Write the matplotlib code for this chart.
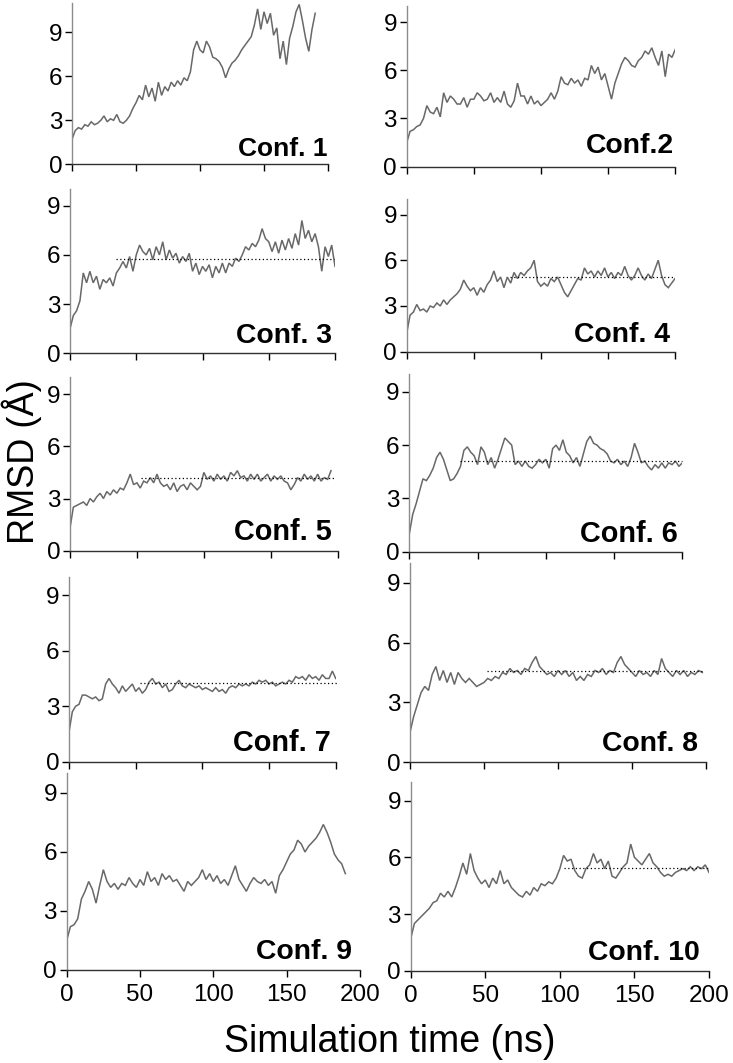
import numpy as np
import matplotlib
matplotlib.use("Agg")
import matplotlib.pyplot as plt

plt.rcParams['font.family'] = ['Liberation Sans', 'DejaVu Sans']

W, H, DPI = 733, 1063, 100
STEP = 2.5  # ns between samples

conf1 = [1.7, 2.3, 2.5, 2.4, 2.7, 2.6, 2.9, 2.7, 2.8, 3.0, 3.3, 2.9, 3.1, 3.0, 3.4, 2.9,
         2.8, 3.0, 3.3, 3.8, 4.2, 4.7, 4.4, 5.4, 4.6, 5.2, 4.3, 5.6, 4.7, 5.3, 5.0, 5.6,
         5.3, 5.7, 5.4, 5.9, 5.7, 6.3, 7.8, 8.4, 7.8, 7.6, 8.4, 8.0, 7.3, 7.2, 7.0, 6.6,
         5.9, 6.5, 6.9, 7.1, 7.4, 7.8, 8.1, 8.4, 8.7, 9.5, 10.6, 9.2, 10.4, 9.6, 10.3, 8.8,
         9.3, 7.2, 8.4, 6.8, 8.6, 9.4, 10.4, 10.9, 9.8, 8.6, 7.7, 9.2, 10.3]
conf2 = [1.5, 2.2, 2.3, 2.5, 2.6, 3.0, 3.8, 3.4, 3.3, 3.7, 3.1, 4.6, 4.0, 4.4, 4.2, 3.9,
         3.9, 4.3, 3.7, 4.2, 4.2, 4.6, 4.4, 4.1, 4.2, 4.6, 4.0, 4.3, 4.0, 4.7, 3.9, 3.7,
         4.1, 5.2, 4.4, 4.4, 3.9, 4.4, 3.9, 4.1, 3.8, 4.0, 4.2, 4.6, 4.2, 4.7, 5.6, 5.2,
         5.1, 5.5, 5.2, 5.4, 5.0, 5.5, 5.4, 6.3, 5.8, 6.2, 5.4, 5.8, 5.0, 4.2, 5.2, 5.8,
         6.4, 6.8, 6.6, 6.3, 6.2, 6.6, 6.8, 7.2, 7.0, 7.4, 6.8, 6.3, 7.2, 5.6, 7.0, 6.8,
         7.3]
conf3 = [1.5, 2.3, 2.6, 3.2, 4.9, 4.3, 5.0, 4.3, 4.7, 3.9, 4.5, 4.3, 4.6, 4.1, 4.9, 5.2,
         5.6, 5.2, 5.9, 5.0, 6.0, 6.6, 6.2, 6.0, 6.4, 5.7, 6.5, 6.0, 6.8, 5.7, 6.3, 5.8,
         6.1, 5.5, 5.9, 5.6, 6.1, 5.0, 5.5, 4.8, 5.3, 5.0, 5.4, 4.6, 5.3, 4.9, 5.5, 4.9,
         5.5, 5.3, 5.8, 5.6, 6.0, 6.5, 6.3, 6.7, 6.5, 6.9, 7.6, 7.0, 6.8, 6.2, 6.8, 6.1,
         6.9, 6.3, 7.0, 6.4, 7.3, 6.6, 8.1, 7.0, 7.5, 6.8, 7.3, 6.5, 5.0, 6.5, 5.9, 6.6,
         5.3]
conf4 = [1.2, 2.4, 2.6, 3.1, 2.7, 2.8, 2.6, 3.0, 2.9, 3.2, 3.0, 3.4, 3.1, 3.4, 3.6, 3.8,
         4.1, 4.7, 4.3, 4.0, 4.2, 3.7, 4.2, 3.9, 4.4, 4.7, 5.3, 4.6, 4.9, 4.2, 4.9, 4.5,
         5.2, 4.8, 5.2, 5.0, 5.3, 5.5, 6.0, 4.6, 4.3, 4.5, 4.3, 4.8, 4.6, 4.9, 4.4, 3.9,
         3.6, 4.0, 4.4, 4.8, 4.7, 5.5, 5.1, 5.3, 4.9, 5.3, 5.0, 5.5, 4.9, 5.2, 4.8, 5.2,
         5.0, 5.6, 5.0, 4.7, 5.0, 5.5, 5.0, 4.7, 5.1, 4.8, 5.4, 6.0, 5.0, 4.4, 4.2, 4.5,
         4.8]
conf5 = [1.3, 2.5, 2.6, 2.7, 2.8, 2.6, 3.0, 2.8, 3.1, 3.3, 3.0, 3.4, 3.2, 3.5, 3.3, 3.6,
         3.5, 3.9, 4.4, 3.8, 3.9, 3.6, 4.0, 3.9, 4.2, 3.9, 4.4, 3.9, 3.7, 3.8, 3.5, 3.9,
         3.4, 3.7, 3.8, 3.5, 3.9, 3.7, 3.5, 3.7, 4.5, 4.1, 4.3, 4.0, 4.4, 4.1, 4.3, 4.0,
         4.5, 4.3, 4.6, 4.2, 4.3, 4.0, 4.4, 4.1, 4.4, 4.0, 4.2, 4.4, 4.0, 4.3, 4.1, 4.3,
         4.0, 3.9, 3.5, 3.8, 4.2, 4.0, 4.4, 4.1, 4.3, 4.0, 4.4, 4.0, 4.2, 4.1, 4.6]
conf6 = [1.0, 2.1, 2.7, 3.4, 4.1, 4.0, 4.3, 4.7, 5.3, 5.6, 5.2, 4.6, 4.0, 4.1, 4.4, 4.8,
         5.7, 5.9, 5.6, 5.4, 4.9, 5.9, 5.6, 4.9, 5.3, 4.7, 5.2, 5.8, 6.4, 6.2, 6.0, 4.9,
         5.1, 4.8, 5.1, 4.8, 4.7, 4.9, 5.2, 5.0, 5.2, 4.7, 5.8, 6.0, 5.7, 6.3, 5.6, 5.4,
         5.0, 5.3, 4.8, 5.5, 6.2, 6.5, 6.1, 6.0, 5.8, 5.7, 5.5, 5.1, 5.0, 5.2, 4.9, 5.1,
         4.8, 5.3, 6.1, 5.6, 5.0, 5.1, 4.8, 4.6, 4.9, 4.7, 5.0, 4.7, 5.0, 4.9, 5.1, 4.8,
         5.0]
conf7 = [1.6, 2.7, 3.0, 3.1, 3.6, 3.6, 3.5, 3.4, 3.5, 3.3, 3.4, 4.2, 4.5, 4.2, 4.0, 3.7,
         4.1, 3.8, 4.0, 4.2, 3.8, 4.0, 3.7, 3.9, 4.3, 4.5, 4.2, 4.3, 4.0, 4.2, 3.8, 3.9,
         4.2, 4.4, 4.1, 4.0, 4.2, 4.1, 4.0, 4.1, 3.9, 4.0, 3.9, 3.8, 4.0, 3.8, 3.9, 3.7,
         4.0, 4.1, 4.0, 4.2, 4.1, 4.2, 4.1, 4.3, 4.2, 4.4, 4.3, 4.4, 4.2, 4.3, 4.1, 4.2,
         4.3, 4.2, 4.4, 4.3, 4.6, 4.5, 4.6, 4.4, 4.7, 4.5, 4.6, 4.4, 4.7, 4.5, 4.5, 4.9,
         4.5]
conf8 = [1.5, 2.3, 2.9, 3.5, 3.8, 3.6, 4.4, 4.8, 4.1, 4.6, 4.0, 4.5, 3.9, 4.5, 4.2, 4.0,
         4.2, 4.0, 3.8, 3.9, 4.0, 4.2, 4.1, 4.3, 4.2, 4.5, 4.4, 4.7, 4.5, 4.6, 4.4, 4.7,
         4.6, 5.0, 5.3, 4.8, 4.6, 4.4, 4.5, 4.3, 4.6, 4.4, 4.6, 4.3, 4.5, 4.1, 4.3, 4.1,
         4.4, 4.3, 4.6, 4.5, 4.7, 4.4, 4.6, 4.5, 5.0, 5.3, 4.9, 4.7, 4.5, 4.3, 4.6, 4.4,
         4.5, 4.3, 4.6, 4.4, 5.2, 4.7, 4.5, 4.3, 4.6, 4.4, 4.6, 4.3, 4.5, 4.4, 4.6, 4.5]
conf9 = [1.5, 2.2, 2.3, 2.6, 3.6, 4.0, 4.5, 4.1, 3.4, 4.3, 5.1, 4.5, 4.2, 4.4, 4.1, 4.4,
         4.3, 4.7, 4.4, 4.2, 4.6, 4.3, 5.0, 4.5, 4.7, 4.3, 4.9, 4.6, 4.8, 4.5, 4.6, 4.3,
         4.0, 4.5, 4.3, 4.5, 4.7, 5.1, 4.6, 4.9, 4.5, 4.8, 4.4, 4.6, 4.3, 4.8, 5.3, 4.6,
         4.3, 4.0, 4.4, 4.7, 4.5, 4.4, 4.6, 4.3, 4.5, 3.9, 4.8, 5.1, 5.5, 5.9, 6.1, 6.6,
         6.4, 6.0, 6.3, 6.5, 6.7, 7.0, 7.4, 7.0, 6.5, 5.9, 5.6, 5.4, 4.9]
conf10 = [1.7, 2.5, 2.7, 2.9, 3.1, 3.3, 3.6, 3.7, 4.1, 3.9, 4.2, 3.9, 4.4, 5.0, 5.7, 5.1,
          6.2, 5.3, 4.9, 4.6, 4.8, 4.4, 4.9, 4.6, 5.3, 4.6, 4.8, 4.4, 4.2, 4.0, 3.9, 4.2,
          4.0, 4.4, 4.2, 4.6, 4.5, 4.7, 4.6, 4.9, 5.4, 6.1, 5.8, 5.9, 5.3, 5.0, 4.9, 5.4,
          5.6, 6.2, 5.7, 5.9, 5.4, 5.8, 5.0, 4.9, 5.2, 5.5, 5.7, 6.7, 6.0, 5.8, 5.6, 5.9,
          6.2, 5.7, 5.5, 5.2, 5.0, 5.1, 5.0, 5.2, 5.3, 5.4, 5.3, 5.5, 5.3, 5.5, 5.4, 5.6,
          5.2]

series = [conf1, conf2, conf3, conf4, conf5, conf6, conf7, conf8, conf9, conf10]
names = ["Conf. 1", "Conf.2", "Conf. 3", "Conf. 4", "Conf. 5",
         "Conf. 6", "Conf. 7", "Conf. 8", "Conf. 9", "Conf. 10"]

# plateau (dotted) lines: level in Å, start and end in ns
plateau_level = [None, None, 5.77, 4.89, 4.15, 5.12, 4.28, 4.58, None, 5.45]
plateau_start = [None, None, 35, 77, 53, 37, 53, 52, None, 103]
plateau_end = [None, None, 199, 200, 197, 200, 202, 197, None, 199]

x_ticks = [0, 50, 100, 150, 200]
y_ticks = [0, 3, 6, 9]

# --- layout in pixels: x0, x1, y_top, y_bottom, y_max
boxes = [
    (72, 328, 3, 164.3, 11), (406.7, 675.3, 6, 166.7, 10),
    (70, 335, 189.3, 353.3, 10), (406.7, 675, 199.3, 351.7, 10),
    (70, 337.7, 376.7, 550.7, 10), (409.3, 682.3, 374, 551.7, 10),
    (69, 335.7, 576.7, 761.7, 10), (410, 706, 562.7, 762.3, 10),
    (66.7, 360, 773.3, 970, 10), (410.7, 709, 781.7, 970.7, 10),
]
# label anchor (right edge x, baseline y) in pixels, font size
label_pos = [
    (328, 156, 19), (674, 152.7, 20.4), (331.7, 343.3, 20.4), (670, 341.7, 20.4),
    (331.7, 540, 20.8), (678, 541.7, 20.8), (331, 750.7, 20.8), (698.3, 750.7, 20.4),
    (351.7, 959.3, 20.4), (700, 960, 20.4),
]

fig = plt.figure(figsize=(W / DPI, H / DPI), dpi=DPI)

for i, vals in enumerate(series):
    x0, x1, yt, yb, ymax = boxes[i]
    ax = fig.add_axes([x0 / W, 1 - yb / H, (x1 - x0) / W, (yb - yt) / H])
    t = np.arange(len(vals)) * STEP
    ax.plot(t, vals, color='#686868', lw=1.1, solid_joinstyle='miter')
    if plateau_level[i] is not None:
        ax.plot([plateau_start[i], plateau_end[i]], [plateau_level[i]] * 2,
                color='black', lw=0.9, ls=(0, (1, 2)), clip_on=False)
    ax.set_xlim(0, 200)
    ax.set_ylim(0, ymax)
    ax.set_xticks(x_ticks)
    ax.set_yticks(y_ticks)
    for s in ('top', 'right'):
        ax.spines[s].set_visible(False)
    ax.spines['left'].set_color('#8c8c8c')
    ax.spines['bottom'].set_color('#303030')
    ax.spines['left'].set_linewidth(1.0)
    ax.spines['bottom'].set_linewidth(1.0)
    ax.tick_params(axis='both', direction='out', length=5, width=1.0,
                   color='black', labelsize=17.5)
    ax.tick_params(axis='y', pad=2)
    ax.tick_params(axis='x', pad=5)
    if i < 8:
        ax.set_xticklabels([])
    ax.patch.set_alpha(0)

    lx, ly, fs = label_pos[i]
    fig.text(lx / W, 1 - ly / H, names[i], ha='right', va='baseline',
             fontsize=fs, fontweight='bold')

fig.text(22 / W, 1 - 462 / H, "RMSD (Å)", rotation=90, ha='center', va='center',
         fontsize=26)
fig.text(390 / W, 1 - 1051.7 / H, "Simulation time (ns)", ha='center', va='baseline',
         fontsize=27)

fig.savefig("out.png", dpi=DPI)
